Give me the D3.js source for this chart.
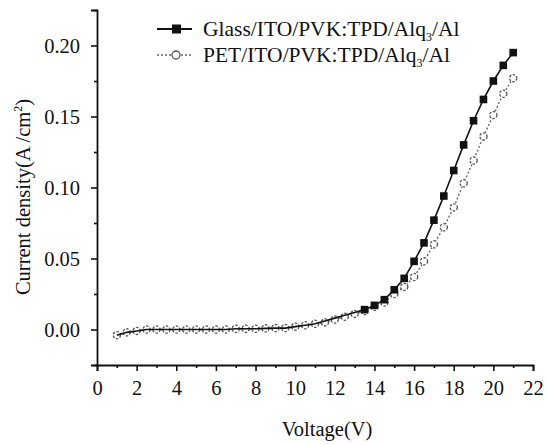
<!DOCTYPE html>
<html>
<head>
<meta charset="utf-8">
<script src="https://cdn.jsdelivr.net/npm/d3@7"></script>
<style>
  body { margin: 0; background: #fff; }
  svg text { font-family: "Liberation Serif", "Times New Roman", serif; fill: #111; }
</style>
</head>
<body>
<script>
// voltage steps, same for both devices
const voltage = [1, 1.5, 2, 2.5, 3, 3.5, 4, 4.5, 5, 5.5, 6, 6.5, 7, 7.5, 8, 8.5, 9, 9.5, 10, 10.5,
  11, 11.5, 12, 12.5, 13, 13.5, 14, 14.5, 15, 15.5, 16, 16.5, 17, 17.5, 18, 18.5, 19, 19.5, 20, 20.5, 21]

const glassJ = [-0.004, -0.002, -0.001, 0.000, 0.000, 0.000, 0.000, 0.000, 0.000, 0.000, 0.000, 0.000,
  0.0005, 0.0005, 0.0005, 0.0008, 0.001, 0.001, 0.002, 0.003,
  0.004, 0.006, 0.008, 0.010, 0.012, 0.014, 0.017, 0.021, 0.028, 0.036, 0.048, 0.061, 0.077, 0.094,
  0.112, 0.130, 0.147, 0.162, 0.175, 0.186, 0.195]

const petJ = [-0.004, -0.002, -0.001, 0.000, 0.000, 0.000, 0.000, 0.000, 0.000, 0.000, 0.000, 0.000,
  0.0005, 0.0005, 0.0005, 0.0008, 0.001, 0.001, 0.002, 0.003,
  0.004, 0.005, 0.007, 0.009, 0.011, 0.013, 0.016, 0.019, 0.025, 0.030, 0.037, 0.048, 0.060, 0.072,
  0.086, 0.103, 0.119, 0.136, 0.151, 0.166, 0.177]

const seriesNames = ['Glass/ITO/PVK:TPD/Alq', 'PET/ITO/PVK:TPD/Alq']
const xTicks = [0, 2, 4, 6, 8, 10, 12, 14, 16, 18, 20, 22]
const yTicks = [0, 0.05, 0.10, 0.15, 0.20]

const width = 547
const height = 445
const plotLeft = 97
const plotRight = 533
const plotTop = 10
const plotBottom = 365
const serif = '"Liberation Serif", "Times New Roman", serif'

const svg = d3.select('body')
  .append('svg')
  .attr('width', width)
  .attr('height', height)
  .attr('font-family', serif)

const x = d3.scaleLinear().domain([0, 22]).range([plotLeft, plotRight])
const y = d3.scaleLinear().domain([-0.025, 0.225]).range([plotBottom, plotTop])

// axes: major ticks with labels, minor ticks without
svg.append('g')
  .attr('transform', `translate(0,${plotBottom})`)
  .call(d3.axisBottom(x).tickValues(xTicks).tickFormat(d3.format('d')).tickSize(6).tickPadding(9))
svg.append('g')
  .attr('transform', `translate(0,${plotBottom})`)
  .call(d3.axisBottom(x).tickValues(d3.range(1, 22, 2)).tickFormat('').tickSize(3))
  .select('.domain').remove()

svg.append('g')
  .attr('transform', `translate(${plotLeft},0)`)
  .call(d3.axisLeft(y).tickValues(yTicks).tickFormat(d3.format('.2f')).tickSize(6).tickPadding(11))
svg.append('g')
  .attr('transform', `translate(${plotLeft},0)`)
  .call(d3.axisLeft(y).tickValues([-0.025, 0.025, 0.075, 0.125, 0.175, 0.225]).tickFormat('').tickSize(3))
  .select('.domain').remove()

svg.selectAll('g').attr('font-family', serif)
svg.selectAll('.domain').attr('stroke', '#111').attr('stroke-width', 1.8)
svg.selectAll('.tick line').attr('stroke', '#111').attr('stroke-width', 1.6)
svg.selectAll('.tick text')
  .attr('font-size', 20.5)
  .style('font-family', serif)
  .attr('fill', '#111')

// axis titles
svg.append('text')
  .attr('x', 327)
  .attr('y', 436)
  .attr('text-anchor', 'middle')
  .attr('font-size', 20.5)
  .text('Voltage(V)')

const yTitle = svg.append('text')
  .attr('transform', 'translate(30,197) rotate(-90)')
  .attr('text-anchor', 'middle')
  .attr('font-size', 20.5)
yTitle.append('tspan').text('Current density(A /cm')
yTitle.append('tspan').attr('font-size', 12).attr('dy', -8).text('2')
yTitle.append('tspan').attr('dy', 8).text(')')

// curves
const glassData = voltage.map((v, i) => ({ v, j: glassJ[i] }))
const petData = voltage.map((v, i) => ({ v, j: petJ[i] }))
const line = d3.line().x(d => x(d.v)).y(d => y(d.j))

svg.append('path')
  .datum(petData)
  .attr('d', line)
  .attr('fill', 'none')
  .attr('stroke', '#666')
  .attr('stroke-width', 1.4)
  .attr('stroke-dasharray', '2,2')
svg.append('g')
  .selectAll('circle')
  .data(petData)
  .enter()
  .append('circle')
  .attr('cx', d => x(d.v))
  .attr('cy', d => y(d.j))
  .attr('r', 3.6)
  .attr('fill', '#fff')
  .attr('stroke', '#555')
  .attr('stroke-width', 1.3)
  .attr('stroke-dasharray', '2.5,1.5')

svg.append('path')
  .datum(glassData)
  .attr('d', line)
  .attr('fill', 'none')
  .attr('stroke', '#111')
  .attr('stroke-width', 1.6)
svg.append('g')
  .selectAll('rect')
  .data(glassData.filter(d => d.v >= 13.5))
  .enter()
  .append('rect')
  .attr('x', d => x(d.v) - 3.8)
  .attr('y', d => y(d.j) - 3.8)
  .attr('width', 7.6)
  .attr('height', 7.6)
  .attr('fill', '#111')

// legend
const legend = svg.append('g')
const rows = [
  { name: seriesNames[0], ly: 29, solid: true },
  { name: seriesNames[1], ly: 55, solid: false }
]
rows.forEach(r => {
  legend.append('line')
    .attr('x1', 157).attr('x2', 192)
    .attr('y1', r.ly).attr('y2', r.ly)
    .attr('stroke', r.solid ? '#111' : '#666')
    .attr('stroke-width', r.solid ? 1.8 : 1.4)
    .attr('stroke-dasharray', r.solid ? null : '2,2')
  if (r.solid) {
    legend.append('rect')
      .attr('x', 172).attr('y', r.ly - 4.5)
      .attr('width', 9).attr('height', 9)
      .attr('fill', '#111')
  } else {
    legend.append('circle')
      .attr('cx', 176).attr('cy', r.ly).attr('r', 4)
      .attr('fill', '#fff')
      .attr('stroke', '#555')
      .attr('stroke-width', 1.3)
  }
  const t = legend.append('text')
    .attr('x', 203).attr('y', r.ly + 7)
    .attr('font-size', 21.5)
  t.append('tspan').text(r.name)
  t.append('tspan').attr('font-size', 12).attr('dy', 5).text('3')
  t.append('tspan').attr('dy', -5).text('/Al')
})
</script>
</body>
</html>
